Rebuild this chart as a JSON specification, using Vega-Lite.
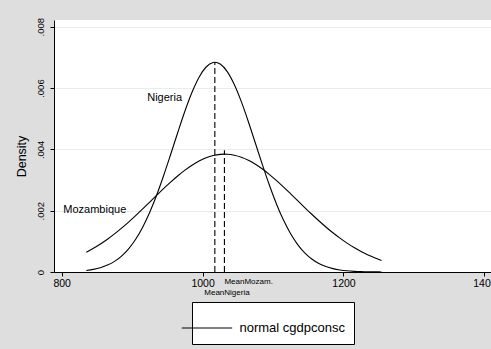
{
  "$schema": "https://vega.github.io/schema/vega-lite/v6.json",
  "autosize": {"type": "none"},
  "padding": {"left": 54, "top": 20, "right": 0, "bottom": 77},
  "width": 437,
  "height": 252,
  "background": "#dedede",
  "config": {"font": "Liberation Sans", "view": {"stroke": null, "fill": "white"}},
  "datasets": {
    "curves": [
      {"c":"Nigeria","x":835,"d":0.0000512,"s":"normal cgdpconsc"},
      {"c":"Nigeria","x":845,"d":0.0000863,"s":"normal cgdpconsc"},
      {"c":"Nigeria","x":855,"d":0.0001413,"s":"normal cgdpconsc"},
      {"c":"Nigeria","x":865,"d":0.0002245,"s":"normal cgdpconsc"},
      {"c":"Nigeria","x":875,"d":0.0003463,"s":"normal cgdpconsc"},
      {"c":"Nigeria","x":885,"d":0.0005188,"s":"normal cgdpconsc"},
      {"c":"Nigeria","x":895,"d":0.0007548,"s":"normal cgdpconsc"},
      {"c":"Nigeria","x":905,"d":0.0010664,"s":"normal cgdpconsc"},
      {"c":"Nigeria","x":915,"d":0.0014628,"s":"normal cgdpconsc"},
      {"c":"Nigeria","x":925,"d":0.0019481,"s":"normal cgdpconsc"},
      {"c":"Nigeria","x":935,"d":0.0025193,"s":"normal cgdpconsc"},
      {"c":"Nigeria","x":945,"d":0.0031636,"s":"normal cgdpconsc"},
      {"c":"Nigeria","x":955,"d":0.0038575,"s":"normal cgdpconsc"},
      {"c":"Nigeria","x":965,"d":0.0045669,"s":"normal cgdpconsc"},
      {"c":"Nigeria","x":975,"d":0.0052504,"s":"normal cgdpconsc"},
      {"c":"Nigeria","x":985,"d":0.0058612,"s":"normal cgdpconsc"},
      {"c":"Nigeria","x":995,"d":0.0063533,"s":"normal cgdpconsc"},
      {"c":"Nigeria","x":1005,"d":0.0066870,"s":"normal cgdpconsc"},
      {"c":"Nigeria","x":1015,"d":0.0068342,"s":"normal cgdpconsc"},
      {"c":"Nigeria","x":1017.4,"d":0.0068400,"s":"normal cgdpconsc"},
      {"c":"Nigeria","x":1025,"d":0.0067821,"s":"normal cgdpconsc"},
      {"c":"Nigeria","x":1035,"d":0.0065353,"s":"normal cgdpconsc"},
      {"c":"Nigeria","x":1045,"d":0.0061149,"s":"normal cgdpconsc"},
      {"c":"Nigeria","x":1055,"d":0.0055557,"s":"normal cgdpconsc"},
      {"c":"Nigeria","x":1065,"d":0.0049013,"s":"normal cgdpconsc"},
      {"c":"Nigeria","x":1075,"d":0.0041987,"s":"normal cgdpconsc"},
      {"c":"Nigeria","x":1085,"d":0.0034922,"s":"normal cgdpconsc"},
      {"c":"Nigeria","x":1095,"d":0.0028206,"s":"normal cgdpconsc"},
      {"c":"Nigeria","x":1105,"d":0.0022123,"s":"normal cgdpconsc"},
      {"c":"Nigeria","x":1115,"d":0.0016846,"s":"normal cgdpconsc"},
      {"c":"Nigeria","x":1125,"d":0.0012457,"s":"normal cgdpconsc"},
      {"c":"Nigeria","x":1135,"d":0.0008942,"s":"normal cgdpconsc"},
      {"c":"Nigeria","x":1145,"d":0.0006235,"s":"normal cgdpconsc"},
      {"c":"Nigeria","x":1155,"d":0.0004222,"s":"normal cgdpconsc"},
      {"c":"Nigeria","x":1165,"d":0.0002775,"s":"normal cgdpconsc"},
      {"c":"Nigeria","x":1175,"d":0.0001771,"s":"normal cgdpconsc"},
      {"c":"Nigeria","x":1185,"d":0.0001098,"s":"normal cgdpconsc"},
      {"c":"Nigeria","x":1195,"d":0.0000660,"s":"normal cgdpconsc"},
      {"c":"Nigeria","x":1205,"d":0.0000386,"s":"normal cgdpconsc"},
      {"c":"Nigeria","x":1215,"d":0.0000219,"s":"normal cgdpconsc"},
      {"c":"Nigeria","x":1225,"d":0.0000121,"s":"normal cgdpconsc"},
      {"c":"Nigeria","x":1235,"d":0.0000065,"s":"normal cgdpconsc"},
      {"c":"Nigeria","x":1245,"d":0.0000034,"s":"normal cgdpconsc"},
      {"c":"Nigeria","x":1254,"d":0.0000018,"s":"normal cgdpconsc"},
      {"c":"Mozambique","x":835,"d":0.0006465,"s":"normal cgdpconsc"},
      {"c":"Mozambique","x":845,"d":0.0007718,"s":"normal cgdpconsc"},
      {"c":"Mozambique","x":855,"d":0.0009130,"s":"normal cgdpconsc"},
      {"c":"Mozambique","x":865,"d":0.0010701,"s":"normal cgdpconsc"},
      {"c":"Mozambique","x":875,"d":0.0012427,"s":"normal cgdpconsc"},
      {"c":"Mozambique","x":885,"d":0.0014295,"s":"normal cgdpconsc"},
      {"c":"Mozambique","x":895,"d":0.0016294,"s":"normal cgdpconsc"},
      {"c":"Mozambique","x":905,"d":0.0018400,"s":"normal cgdpconsc"},
      {"c":"Mozambique","x":915,"d":0.0020587,"s":"normal cgdpconsc"},
      {"c":"Mozambique","x":925,"d":0.0022821,"s":"normal cgdpconsc"},
      {"c":"Mozambique","x":935,"d":0.0025063,"s":"normal cgdpconsc"},
      {"c":"Mozambique","x":945,"d":0.0027273,"s":"normal cgdpconsc"},
      {"c":"Mozambique","x":955,"d":0.0029403,"s":"normal cgdpconsc"},
      {"c":"Mozambique","x":965,"d":0.0031405,"s":"normal cgdpconsc"},
      {"c":"Mozambique","x":975,"d":0.0033234,"s":"normal cgdpconsc"},
      {"c":"Mozambique","x":985,"d":0.0034845,"s":"normal cgdpconsc"},
      {"c":"Mozambique","x":995,"d":0.0036196,"s":"normal cgdpconsc"},
      {"c":"Mozambique","x":1005,"d":0.0037253,"s":"normal cgdpconsc"},
      {"c":"Mozambique","x":1015,"d":0.0037986,"s":"normal cgdpconsc"},
      {"c":"Mozambique","x":1025,"d":0.0038376,"s":"normal cgdpconsc"},
      {"c":"Mozambique","x":1031,"d":0.0038440,"s":"normal cgdpconsc"},
      {"c":"Mozambique","x":1035,"d":0.0038411,"s":"normal cgdpconsc"},
      {"c":"Mozambique","x":1045,"d":0.0038092,"s":"normal cgdpconsc"},
      {"c":"Mozambique","x":1055,"d":0.0037426,"s":"normal cgdpconsc"},
      {"c":"Mozambique","x":1065,"d":0.0036432,"s":"normal cgdpconsc"},
      {"c":"Mozambique","x":1075,"d":0.0035137,"s":"normal cgdpconsc"},
      {"c":"Mozambique","x":1085,"d":0.0033575,"s":"normal cgdpconsc"},
      {"c":"Mozambique","x":1095,"d":0.0031786,"s":"normal cgdpconsc"},
      {"c":"Mozambique","x":1105,"d":0.0029814,"s":"normal cgdpconsc"},
      {"c":"Mozambique","x":1115,"d":0.0027707,"s":"normal cgdpconsc"},
      {"c":"Mozambique","x":1125,"d":0.0025511,"s":"normal cgdpconsc"},
      {"c":"Mozambique","x":1135,"d":0.0023270,"s":"normal cgdpconsc"},
      {"c":"Mozambique","x":1145,"d":0.0021031,"s":"normal cgdpconsc"},
      {"c":"Mozambique","x":1155,"d":0.0018832,"s":"normal cgdpconsc"},
      {"c":"Mozambique","x":1165,"d":0.0016707,"s":"normal cgdpconsc"},
      {"c":"Mozambique","x":1175,"d":0.0014685,"s":"normal cgdpconsc"},
      {"c":"Mozambique","x":1185,"d":0.0012789,"s":"normal cgdpconsc"},
      {"c":"Mozambique","x":1195,"d":0.0011034,"s":"normal cgdpconsc"},
      {"c":"Mozambique","x":1205,"d":0.0009432,"s":"normal cgdpconsc"},
      {"c":"Mozambique","x":1215,"d":0.0007988,"s":"normal cgdpconsc"},
      {"c":"Mozambique","x":1225,"d":0.0006703,"s":"normal cgdpconsc"},
      {"c":"Mozambique","x":1235,"d":0.0005573,"s":"normal cgdpconsc"},
      {"c":"Mozambique","x":1245,"d":0.0004590,"s":"normal cgdpconsc"},
      {"c":"Mozambique","x":1254,"d":0.0003780,"s":"normal cgdpconsc"}
    ],
    "means": [
      {"c":"Nigeria","mean":1017.4,"bottom":0,"top":0.00684},
      {"c":"Mozambique","mean":1031,"bottom":0,"top":0.00397}
    ],
    "names": [
      {"label":"Nigeria","x":921.4,"y":0.00567},
      {"label":"Mozambique","x":802.3,"y":0.00201}
    ],
    "mozlabel": [
      {"label":"MeanMozam.","x":1031,"y":-0.00034}
    ],
    "niglabel": [
      {"label":"MeanNigeria","x":1034.6,"y":-0.00069}
    ]
  },
  "layer": [
    {
      "data": {"name": "curves"},
      "mark": {"type": "line", "strokeWidth": 1.1, "interpolate": "monotone", "clip": false},
      "encoding": {
        "x": {
          "field": "x", "type": "quantitative",
          "scale": {"domain": [789.1, 1409.4], "nice": false, "zero": false},
          "axis": {
            "title": null, "values": [800, 1000, 1200, 1400], "grid": false,
            "domainColor": "black", "domainWidth": 1, "tickColor": "black", "tickSize": 4,
            "labelFontSize": 10.5, "labelColor": "black", "labelPadding": 2, "labelFlush": false,
            "labelOverlap": false, "format": "d"
          }
        },
        "y": {
          "field": "d", "type": "quantitative",
          "scale": {"domain": [0, 0.00822], "nice": false},
          "axis": {
            "title": "Density", "titleFontSize": 12.5, "titleFontWeight": "normal", "titleColor": "black",
            "titleX": -32.3, "titleY": 136, "titleAngle": -90, "titleAlign": "center", "titleBaseline": "middle",
            "values": [0, 0.002, 0.004, 0.006, 0.008],
            "labelExpr": "datum.value == 0 ? '0' : '.' + format(round(datum.value * 1000), '03d')",
            "labelAngle": -90, "labelAlign": "center", "labelBaseline": "middle", "labelPadding": 10,
            "labelFontSize": 9.5, "labelColor": "black", "labelFlush": false, "labelOverlap": false,
            "domainColor": "black", "domainWidth": 1, "tickColor": "black", "tickSize": 4,
            "grid": true, "gridColor": "#e4eeee", "gridWidth": 1
          }
        },
        "detail": {"field": "c", "type": "nominal"},
        "color": {
          "field": "s", "type": "nominal",
          "scale": {"range": ["black"]},
          "legend": {
            "orient": "none", "legendX": 138, "legendY": 282,
            "title": "\u00a0", "titleFontSize": 9, "titlePadding": 2,
            "padding": 8.5, "strokeColor": "black", "fillColor": "white",
            "symbolType": "M-4.2,0H4.2", "symbolSize": 144, "symbolStrokeWidth": 1,
            "symbolStrokeColor": "black",
            "labelFontSize": 13, "labelOffset": 26, "labelColor": "black"
          }
        }
      }
    },
    {
      "data": {"name": "means"},
      "mark": {"type": "rule", "strokeDash": [6, 3], "strokeWidth": 1.1, "color": "black"},
      "encoding": {
        "x": {"field": "mean", "type": "quantitative"},
        "y": {"field": "bottom", "type": "quantitative"},
        "y2": {"field": "top"}
      }
    },
    {
      "data": {"name": "names"},
      "mark": {"type": "text", "align": "left", "baseline": "middle", "fontSize": 11, "color": "black"},
      "encoding": {
        "x": {"field": "x", "type": "quantitative"},
        "y": {"field": "y", "type": "quantitative"},
        "text": {"field": "label", "type": "nominal"}
      }
    },
    {
      "data": {"name": "mozlabel"},
      "mark": {"type": "text", "align": "left", "baseline": "middle", "fontSize": 8, "color": "black", "clip": false},
      "encoding": {
        "x": {"field": "x", "type": "quantitative"},
        "y": {"field": "y", "type": "quantitative"},
        "text": {"field": "label", "type": "nominal"}
      }
    },
    {
      "data": {"name": "niglabel"},
      "mark": {"type": "text", "align": "center", "baseline": "middle", "fontSize": 8, "color": "black", "clip": false},
      "encoding": {
        "x": {"field": "x", "type": "quantitative"},
        "y": {"field": "y", "type": "quantitative"},
        "text": {"field": "label", "type": "nominal"}
      }
    }
  ]
}
